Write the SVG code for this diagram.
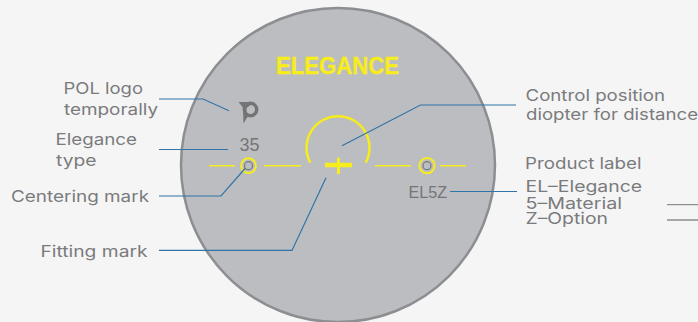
<svg xmlns="http://www.w3.org/2000/svg" width="698" height="322" viewBox="0 0 698 322">
<style>
.t{font-family:"Inter","Liberation Sans",sans-serif;font-size:16px;fill:#7a7b7d}
.n{font-family:"Liberation Sans",sans-serif;fill:#747578}
.c{fill:none;stroke:#2f75a8;stroke-width:1.2}
.y{fill:none;stroke:#f7ec1c;stroke-width:1.5}
.m{fill:none;stroke:#f7ec1c;stroke-width:2}
.i{fill:none;stroke:#77787b;stroke-width:1.2}
</style>
<rect width="698" height="322" fill="#f5f5f5"/>
<g id="lens">
<circle cx="338" cy="165" r="157" fill="#bcbdc1" stroke="#8c8e92" stroke-width="2.500"/>
<text x="276" y="73.500" textLength="123" lengthAdjust="spacingAndGlyphs" style="font-family:'Liberation Sans',sans-serif;font-size:23px;font-weight:700;fill:#f7ec1c;stroke:#f7ec1c;stroke-width:.4">ELEGANCE</text>
</g>
<g id="marks">
<path class="y" d="M209 165.700H235M264 165.700H301M375 165.700H411M440 165.700H466"/>
<circle class="m" cx="248.500" cy="165.700" r="7.400"/><circle class="i" cx="248.500" cy="165.700" r="4"/>
<circle class="m" cx="427" cy="165.700" r="7.600"/><circle class="i" cx="427" cy="165.700" r="4"/>
<path d="M310.300 162.700A31.500 31.500 0 1 1 365.700 162.700" fill="none" stroke="#f7ec1c" stroke-width="2.500"/>
<path d="M325 165H352" fill="none" stroke="#f7ec1c" stroke-width="4.500"/>
<path d="M338.500 157.700V174" fill="none" stroke="#f7ec1c" stroke-width="3"/>
<path d="M238.500 102H250.500V105L246.500 108V112L249 114.500L243.500 123.500L243 107.500Z" fill="#737476"/>
<circle cx="250.500" cy="109.500" r="6.200" fill="none" stroke="#737476" stroke-width="3.400"/>
</g>
<g id="connectors">
<path class="c" d="M159 99H203L229 110.700"/>
<path class="c" d="M159 149.500H228"/>
<path class="c" d="M159 196H221L245 168.500"/>
<path class="c" d="M159 250.400H292L326 177.700"/>
<path class="c" d="M342 145.700L420.500 105H516"/>
<path class="c" d="M450 191.500H517"/>
<path d="M667 204.700H698" fill="none" stroke="#77787b" stroke-width="1"/>
<path d="M667 220H698" fill="none" stroke="#8a8b8d" stroke-width="1.500"/>
</g>
<g id="labels">
<text class="t" x="63.500" y="94" textLength="79.500" lengthAdjust="spacingAndGlyphs">POL logo</text>
<text class="t" x="64" y="115" textLength="94" lengthAdjust="spacingAndGlyphs">temporally</text>
<text class="t" x="55.500" y="145" textLength="81.500" lengthAdjust="spacingAndGlyphs">Elegance</text>
<text class="t" x="56" y="166" textLength="40.500" lengthAdjust="spacingAndGlyphs">type</text>
<text class="t" x="11" y="201.700" textLength="138" lengthAdjust="spacingAndGlyphs">Centering mark</text>
<text class="t" x="40.500" y="256.700" textLength="107" lengthAdjust="spacingAndGlyphs">Fitting mark</text>
<text class="n" x="239.500" y="151" textLength="20" lengthAdjust="spacingAndGlyphs" style="font-size:18px">35</text>
<text class="n" x="408.500" y="198.300" textLength="38.500" lengthAdjust="spacingAndGlyphs" style="font-size:17px">EL5Z</text>
<text class="t" x="525.500" y="100.500" textLength="139.500" lengthAdjust="spacingAndGlyphs">Control position</text>
<text class="t" x="526" y="120" textLength="172" lengthAdjust="spacingAndGlyphs">diopter for distance</text>
<text class="t" x="525" y="168.700" textLength="116.500" lengthAdjust="spacingAndGlyphs">Product label</text>
<text class="t" x="525.500" y="192" textLength="116.500" lengthAdjust="spacingAndGlyphs">EL–Elegance</text>
<text class="t" x="525.500" y="209" textLength="96.500" lengthAdjust="spacingAndGlyphs">5–Material</text>
<text class="t" x="525.500" y="224.300" textLength="82.500" lengthAdjust="spacingAndGlyphs">Z–Option</text>
</g>
</svg>
